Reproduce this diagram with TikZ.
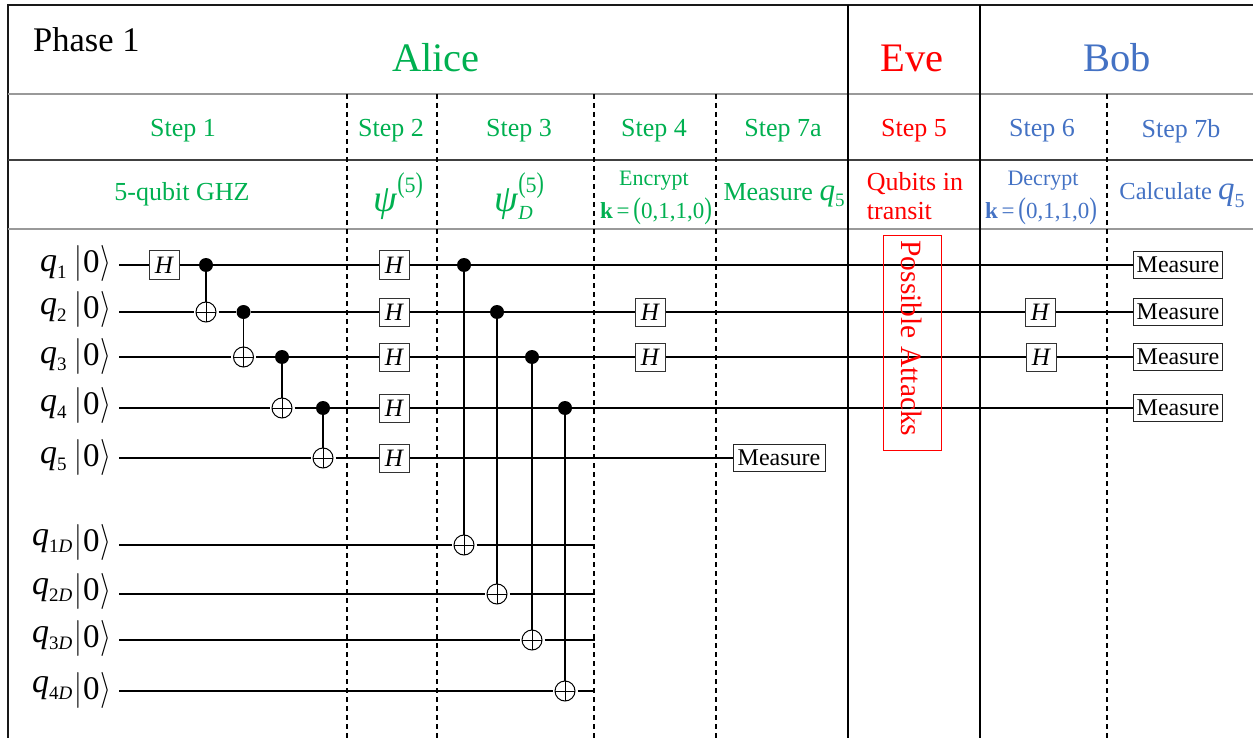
\documentclass[tikz,border=0pt]{standalone}
\usepackage{graphicx}
\usepackage{fontspec}
\setmainfont{Liberation Serif}
\definecolor{alicegreen}{HTML}{00B050}
\definecolor{evered}{HTML}{FF0000}
\definecolor{bobblue}{HTML}{4472C4}
\newcommand{\qsub}[2]{\textit{q}\raisebox{-.22em}{\fontsize{#2}{#2}\selectfont #1}}
\newcommand{\ketzero}{\scalebox{1.12}[1.45]{$\Bigg|$}\kern1pt 0\kern1pt\scalebox{1.12}[1.45]{$\Bigg\rangle$}}
\newcommand{\kvec}{\textbf{k}\,=\,\scalebox{1}[1.3]{(}0,1,1,0\scalebox{1}[1.3]{)}}
\newcommand{\supfive}{\raisebox{.5em}{\fontsize{22}{22}\selectfont\scalebox{1}[1.3]{(}5\scalebox{1}[1.3]{)}}}
\tikzset{
  wire/.style={line width=1.5pt},
  rulebar/.style={line width=1.8pt},
  stepline/.style={line width=1.3pt,dash pattern=on 5pt off 4pt},
  hgate/.style={draw=black!80,line width=1pt,minimum width=30pt,minimum height=28pt,inner sep=0pt,font=\fontsize{25}{25}\selectfont\itshape},
  dot/.style={circle,fill=black,minimum size=14pt,inner sep=0pt},
  oplus/.style={circle,draw,line width=1pt,minimum size=20pt,inner sep=0pt,outer sep=2.5pt,
    path picture={\draw[line width=1pt] (path picture bounding box.west)--(path picture bounding box.east)
      (path picture bounding box.north)--(path picture bounding box.south);}},
  meter/.style={draw=black!85,line width=1pt,minimum width=89pt,minimum height=27pt,inner sep=0pt,font=\fontsize{24}{24}\selectfont},
  lab/.style={inner sep=0pt,font=\fontsize{34}{34}\selectfont},
  ketlab/.style={inner sep=0pt,font=\fontsize{33}{33}\selectfont},
  steplab/.style={inner sep=0pt,font=\fontsize{26}{26}\selectfont},
}
\begin{document}
\begin{tikzpicture}[x=1pt,y=-1pt]
\useasboundingbox (0,0) rectangle (1253,738);
% table
\draw[rulebar,black!90] (8,738)--(8,5)--(1253,5);
\draw[rulebar,black!40] (8,94)--(1253,94);
\draw[line width=1.4pt,black!75] (8,160)--(1253,160);
\draw[rulebar,black!40] (8,229)--(1253,229);
\draw[rulebar] (848,5)--(848,738);
\draw[rulebar] (980,5)--(980,738);
\foreach \x in {347,437,594,716,1107}{
  \draw[stepline] (\x,94)--(\x,738);
}
% headers
\node[anchor=west,inner sep=0pt,font=\fontsize{34.5}{34.5}\selectfont] (phase) at (33,40) {Phase 1};
\foreach \x/\c/\t/\n in {436/alicegreen/Alice/alice,912/evered/Eve/eve,1117/bobblue/Bob/bob}{
  \node[inner sep=0pt,text=\c,font=\fontsize{40.5}{40.5}\selectfont] (\n) at (\x,58) {\t};
}
\foreach \x/\c/\t/\n in {183/alicegreen/Step 1/s1,391/alicegreen/Step 2/s2,519/alicegreen/Step 3/s3,654/alicegreen/Step 4/s4,783/alicegreen/Step 7a/s7a,914/evered/Step 5/s5,1042/bobblue/Step 6/s6,1181/bobblue/Step 7b/s7b}{
  \node[steplab,text=\c] (\n) at (\x,131) {\t};
}
\node[steplab,text=alicegreen] (ghz) at (182,194) {5-qubit GHZ};
\node[inner sep=0pt,anchor=west,text=alicegreen,font=\fontsize{38}{38}\selectfont] (psi) at (373,196) {\textit{ψ}\supfive};
\node[inner sep=0pt,anchor=west,text=alicegreen,font=\fontsize{38}{38}\selectfont] (psid) at (494,196) {\textit{ψ}\rlap{\supfive}\raisebox{-.22em}{\fontsize{20}{20}\selectfont\textit{D}}};
\node[inner sep=0pt,text=alicegreen,font=\fontsize{22}{22}\selectfont] (enc) at (654,181) {Encrypt};
\node[inner sep=0pt,text=alicegreen,font=\fontsize{23}{23}\selectfont] (keya) at (656,211) {\kvec};
\node[steplab,text=alicegreen] (meas) at (784,195) {Measure \fontsize{31}{31}\selectfont\qsub{5}{19}};
\node[steplab,text=evered,align=left] (transit) at (915,196) {Qubits in\\[3pt]transit};
\node[inner sep=0pt,text=bobblue,font=\fontsize{22}{22}\selectfont] (dec) at (1043,181) {Decrypt};
\node[inner sep=0pt,text=bobblue,font=\fontsize{23}{23}\selectfont] (keyb) at (1041,211) {\kvec};
\node[inner sep=0pt,text=bobblue,font=\fontsize{24.5}{24.5}\selectfont] (calc) at (1182,195) {Calculate \fontsize{33}{33}\selectfont\qsub{5}{20}};
% qubit labels
\foreach \x/\y/\yk/\t/\n in {40/267/263/1/1,40/310/309/2/2,40/359/356/3/3,40/407/405/4/4,40/459/457/5/5,32/541/542/1\textit{D}/1d,32/590/591/2\textit{D}/2d,32/638/638/3\textit{D}/3d,32/688/690/4\textit{D}/4d}{
  \node[lab,anchor=west] (q\n) at (\x,\y) {\qsub{\t}{19}};
  \node[ketlab] (ket\n) at (93,\yk) {\ketzero};
}
% wire starts and ends
\foreach \y/\n in {265/1,312/2,357/3,408/4,458/5,545/1d,594/2d,640/3d,691/4d}{
  \coordinate (w\n) at (119,\y);
}
\foreach \y/\n in {545/1d,594/2d,640/3d,691/4d}{
  \coordinate (e\n) at (595,\y);
}
% step 1
\node[hgate] (h1a) at (164,265) {H};
\node[dot] (c1a) at (206,265) {};
\node[oplus] (t2a) at (206,312) {};
\node[dot] (c2a) at (243.5,312) {};
\node[oplus] (t3a) at (243.5,357) {};
\node[dot] (c3a) at (282,357) {};
\node[oplus] (t4a) at (282,408) {};
\node[dot] (c4a) at (323,408) {};
\node[oplus] (t5a) at (323,458) {};
% step 2
\foreach \y/\n in {265/1,312/2,357/3,408/4,458/5}{
  \node[hgate] (h\n b) at (394,\y) {H};
}
% step 3
\node[dot] (c1b) at (464,265) {};
\node[dot] (c2b) at (497,312) {};
\node[dot] (c3b) at (532,357) {};
\node[dot] (c4b) at (565,408) {};
\node[oplus] (t1d) at (464,545) {};
\node[oplus] (t2d) at (497,594) {};
\node[oplus] (t3d) at (532,640) {};
\node[oplus] (t4d) at (565,691) {};
% steps 4 and 6
\node[hgate] (h2c) at (650,312) {H};
\node[hgate] (h3c) at (650,357) {H};
\node[hgate] (h2d) at (1040,312) {H};
\node[hgate] (h3d) at (1041,357) {H};
% measure
\node[meter,minimum width=92pt] (m5) at (779,458) {Measure};
\node[meter] (m1) at (1178,265) {Measure};
\node[meter] (m2) at (1178,312) {Measure};
\node[meter] (m3) at (1178,357) {Measure};
\node[meter] (m4) at (1178,408) {Measure};
% wires
\draw[wire] (w1)--(h1a)--(c1a)--(h1b)--(c1b)--(m1);
\draw[wire] (w2)--(t2a)--(c2a)--(h2b)--(c2b)--(h2c)--(h2d)--(m2);
\draw[wire] (w3)--(t3a)--(c3a)--(h3b)--(c3b)--(h3c)--(h3d)--(m3);
\draw[wire] (w4)--(t4a)--(c4a)--(h4b)--(c4b)--(m4);
\draw[wire] (w5)--(t5a)--(h5b)--(m5);
\foreach \n in {1d,2d,3d,4d}{
  \draw[wire] (w\n)--(t\n)--(e\n);
}
\draw[wire,shorten >=-2.5pt] (c1a)--(t2a);
\draw[wire,shorten >=-2.5pt] (c2a)--(t3a);
\draw[wire,shorten >=-2.5pt] (c3a)--(t4a);
\draw[wire,shorten >=-2.5pt] (c4a)--(t5a);
\draw[wire,shorten >=-2.5pt] (c1b)--(t1d);
\draw[wire,shorten >=-2.5pt] (c2b)--(t2d);
\draw[wire,shorten >=-2.5pt] (c3b)--(t3d);
\draw[wire,shorten >=-2.5pt] (c4b)--(t4d);
% attacks
\node[draw=evered,line width=1pt,rotate=-90,text=evered,minimum width=215pt,minimum height=58pt,inner sep=0pt,font=\fontsize{29.5}{29.5}\selectfont] (attacks) at (912,343) {Possible Attacks\hspace*{9pt}};
\end{tikzpicture}
\end{document}
